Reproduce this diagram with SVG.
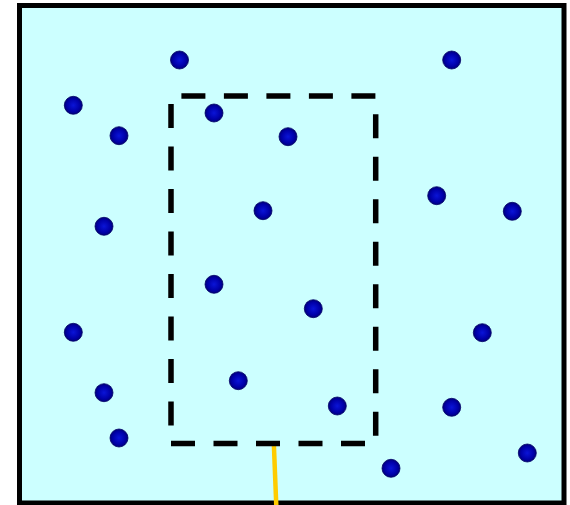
<svg xmlns="http://www.w3.org/2000/svg" width="570" height="505" viewBox="0 0 570 505">
<defs>
<radialGradient id="dotg" cx="50%" cy="50%" r="50%">
<stop offset="0%" stop-color="#0a14d8"/>
<stop offset="70%" stop-color="#0000a8"/>
<stop offset="100%" stop-color="#00007a"/>
</radialGradient>
</defs>
<style>
.dot{fill:url(#dotg);stroke:#000066;stroke-width:0.8}
</style>
<rect id="panel" x="19.5" y="5.5" width="544.5" height="497.5" fill="#CCFFFF" stroke="#000" stroke-width="5"/>
<g id="connectors">
<line x1="273.8" y1="443" x2="276.3" y2="506" stroke="#FFCC00" stroke-width="4.5"/>
</g>
<g id="region">
<path d="M171,443.5 L375.7,443.5 L375.7,96 L171,96 Z" fill="none" stroke="#000" stroke-width="5.5" stroke-dasharray="24 18.5"/>
</g>
<g id="dots">
<circle id="d1" class="dot" cx="179.5" cy="60" r="9"/>
<circle id="d2" class="dot" cx="451.7" cy="60" r="9"/>
<circle id="d3" class="dot" cx="73.3" cy="105.3" r="9"/>
<circle id="d4" class="dot" cx="119" cy="135.7" r="9"/>
<circle id="d5" class="dot" cx="214" cy="113" r="9"/>
<circle id="d6" class="dot" cx="288" cy="136.7" r="9"/>
<circle id="d7" class="dot" cx="436.7" cy="195.7" r="9"/>
<circle id="d8" class="dot" cx="512.3" cy="211.3" r="9"/>
<circle id="d9" class="dot" cx="104" cy="226.3" r="9"/>
<circle id="d10" class="dot" cx="263" cy="210.7" r="9"/>
<circle id="d11" class="dot" cx="214" cy="284.3" r="9"/>
<circle id="d12" class="dot" cx="313.3" cy="308.7" r="9"/>
<circle id="d13" class="dot" cx="73.3" cy="332.3" r="9"/>
<circle id="d14" class="dot" cx="482.3" cy="332.7" r="9"/>
<circle id="d15" class="dot" cx="104" cy="392.7" r="9"/>
<circle id="d16" class="dot" cx="238.3" cy="380.7" r="9"/>
<circle id="d17" class="dot" cx="337.3" cy="406" r="9"/>
<circle id="d18" class="dot" cx="451.7" cy="407.3" r="9"/>
<circle id="d19" class="dot" cx="119" cy="438" r="9"/>
<circle id="d20" class="dot" cx="391" cy="468.3" r="9"/>
<circle id="d21" class="dot" cx="527.3" cy="453" r="9"/>
</g>
</svg>
